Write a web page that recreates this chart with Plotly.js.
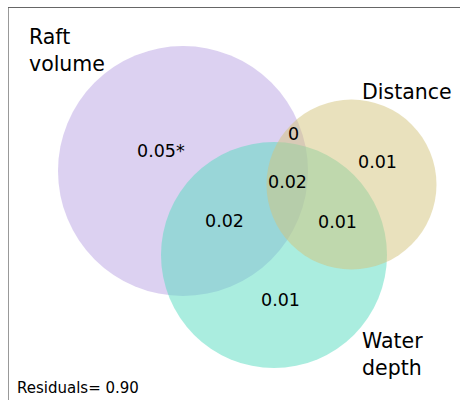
<!DOCTYPE html>
<html>
<head>
<meta charset="utf-8">
<script src="https://cdn.plot.ly/plotly-3.0.1.min.js"></script>
<style>
  html, body { margin: 0; padding: 0; background: #fff; }
  #chart { width: 460px; height: 400px; }
</style>
</head>
<body>
<div id="chart"></div>
<script>
// Euler diagram of shared variance between three predictors
// (sets listed in drawing order, later circles are painted on top)
const setNames   = ["Raft<br>volume", "Water<br>depth", "Distance"];
const setCenterX = [174, 265, 342.5];
const setCenterY = [229, 145, 215.5];
const setRadius  = [125, 113, 85];
const setColors  = ["#b9a3e3", "#55dcc0", "#d4c37c"];
const setLabelX  = [18, 351, 351];
const setLabelY  = [350, 46, 308];

// Region values and where they are printed
const regionText = ["0.05*", "0", "0.01", "0.02", "0.02", "0.01", "0.01"];
const regionX    = [152, 284, 368, 278, 215, 328, 271];
const regionY    = [249, 266, 238, 218, 179, 178, 100];

const residuals = 0.90;

const fontFamily = "DejaVu Sans, sans-serif";

const shapes = setRadius.map((r, i) => ({
  type: "circle",
  xref: "x", yref: "y",
  x0: setCenterX[i] - r, x1: setCenterX[i] + r,
  y0: setCenterY[i] - r, y1: setCenterY[i] + r,
  fillcolor: setColors[i],
  opacity: 0.5,
  line: { width: 0 },
  layer: "above"
}));

const annotations = [];
setNames.forEach((name, i) => annotations.push({
  x: setLabelX[i], y: setLabelY[i], xref: "x", yref: "y",
  text: name, showarrow: false, xanchor: "left", yanchor: "middle", align: "left",
  font: { family: fontFamily, size: 20.5, color: "#000" }
}));
regionText.forEach((t, i) => annotations.push({
  x: regionX[i], y: regionY[i], xref: "x", yref: "y",
  text: t, showarrow: false, xanchor: "center", yanchor: "middle",
  font: { family: fontFamily, size: 17.5, color: "#000" }
}));
annotations.push({
  x: 6, y: 12, xref: "x", yref: "y",
  text: "Residuals= " + residuals.toFixed(2), showarrow: false,
  xanchor: "left", yanchor: "middle",
  font: { family: fontFamily, size: 15, color: "#000" }
});

const layout = {
  width: 460, height: 400,
  margin: { l: 9, r: 0, t: 8, b: 0 },
  paper_bgcolor: "#fff", plot_bgcolor: "#fff",
  showlegend: false,
  xaxis: { range: [0, 451], showgrid: false, zeroline: false, showticklabels: false,
           ticks: "", showline: true, side: "top", linecolor: "#666", linewidth: 1.5, fixedrange: true },
  yaxis: { range: [0, 392], showgrid: false, zeroline: false, showticklabels: false,
           ticks: "", showline: true, side: "left", linecolor: "#999", linewidth: 1.5, fixedrange: true },
  shapes: shapes,
  annotations: annotations
};

Plotly.newPlot("chart", [{ x: [], y: [], type: "scatter", mode: "markers", hoverinfo: "skip" }],
  layout, { displayModeBar: false, staticPlot: true });
</script>
</body>
</html>
